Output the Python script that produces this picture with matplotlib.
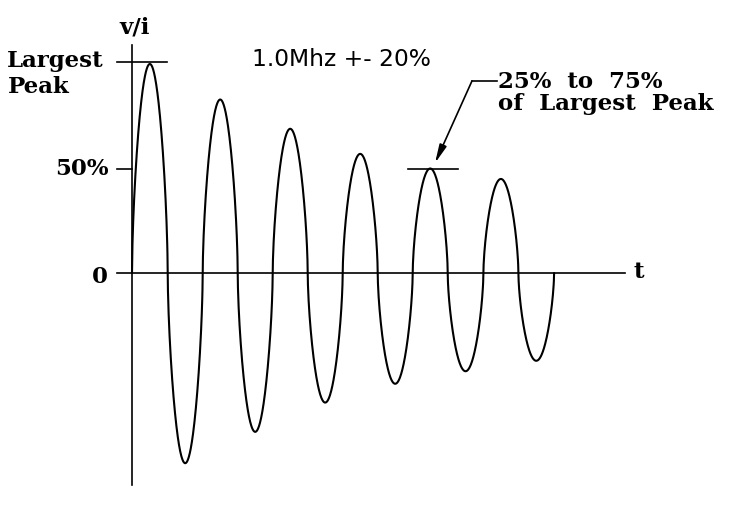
import numpy as np
import matplotlib
matplotlib.use("Agg")
import matplotlib.pyplot as plt

# ---- data (time in microseconds, amplitude in % of largest peak) ----
zero_crossings = [0.0, 0.51, 1.01, 1.51, 2.01, 2.51, 3.01, 3.51, 4.01, 4.51, 5.02, 5.52, 6.03]
half_cycle_extrema = [100, -91, 83, -76, 69, -62, 57, -53, 50, -47, 45, -42]
largest_peak = 100
half_level = 50

# ---- figure ----
W, H = 744, 512
fig = plt.figure(figsize=(W / 100, H / 100), dpi=100)
ax = fig.add_axes([0, 0, 1, 1])
ax.axis("off")
px_per_t = 70.0
px_per_v = 2.09
x0_px, y0_px = 132, 273
ax.set_xlim(-x0_px / px_per_t, (W - x0_px) / px_per_t)
ax.set_ylim(-(H - y0_px) / px_per_v, y0_px / px_per_v)

# waveform: each half cycle drawn as a sharpened sine arc through read extrema
ts, vs = [], []
for k, amp in enumerate(half_cycle_extrema):
    a, b = zero_crossings[k], zero_crossings[k + 1]
    u = np.linspace(0, 1, 150)
    s = np.clip(np.sin(np.pi * u), 0, None)
    ts.append(a + (b - a) * u)
    vs.append(amp * s ** 0.62)
t = np.concatenate(ts)
v = np.concatenate(vs)
ax.plot(t, v, color="black", lw=1.5, solid_capstyle="round", zorder=3)

# axes lines
ax.plot([0, 0], [109, -101.5], color="black", lw=1.2)
ax.plot([-0.214, 7.04], [0, 0], color="black", lw=1.2)

# markers
ax.plot([-0.214, 0.5], [largest_peak + 1, largest_peak + 1], color="black", lw=1.2)
ax.plot([-0.214, 0.0], [half_level, half_level], color="black", lw=1.2)
ax.plot([3.94, 4.66], [half_level, half_level], color="black", lw=1.2)

serif = dict(family="DejaVu Serif", fontweight="bold", fontsize=16.5, color="black")
ax.text(0.043, 114.4, "v/i", ha="center", va="baseline", **serif)
ax.text(-1.786, 98.6, "Largest", ha="left", va="baseline", **serif)
ax.text(-1.772, 86.1, "Peak", ha="left", va="baseline", **serif)
ax.text(-0.329, 46.9, "50%", ha="right", va="baseline", **serif)
ax.text(-0.343, -4.8, "0", ha="right", va="baseline", **serif)
ax.text(7.171, -2.4, "t", ha="left", va="baseline", **serif)
ax.text(1.714, 99.0, "1.0Mhz +- 20%", ha="left", va="baseline",
        family="DejaVu Sans", fontsize=16.8, color="black")
ax.text(5.229, 88.5, "25%  to  75%", ha="left", va="baseline", **serif)
ax.text(5.229, 78.0, "of  Largest  Peak", ha="left", va="baseline", **serif)

# leader + arrow
ax.plot([5.214, 4.857], [91.9, 91.9], color="black", lw=1.2)
ax.annotate("", xy=(4.329, 52.6), xytext=(4.857, 91.9),
            arrowprops=dict(arrowstyle="-|>,head_length=1.1,head_width=0.22",
                            color="black", lw=1.2, shrinkA=0, shrinkB=0))

fig.savefig("out.png", dpi=100)
